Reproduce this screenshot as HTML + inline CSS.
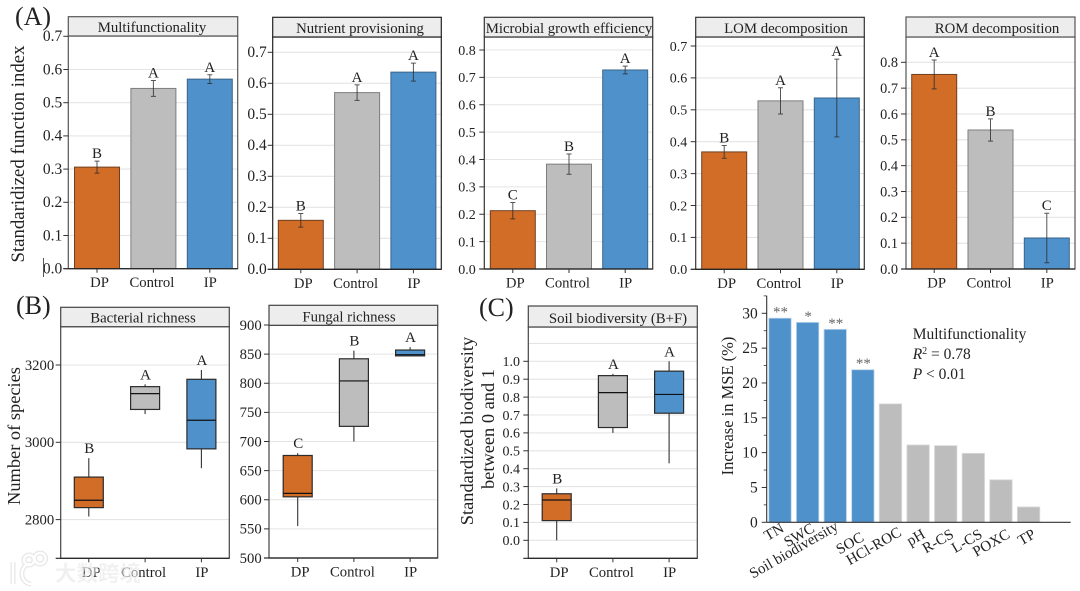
<!DOCTYPE html>
<html lang="en">
<head>
<meta charset="utf-8">
<title>Standardized function index, richness and MSE panels</title>
<style>
html,body{margin:0;padding:0;background:#fff;width:1080px;height:591px;overflow:hidden}
svg{display:block;font-family:"Liberation Serif","Noto Serif CJK SC",serif;filter:blur(0.3px)}
text{fill:#222}
</style>
</head>
<body>
<svg id="figure" xmlns="http://www.w3.org/2000/svg" width="1080" height="591" viewBox="0 0 1080 591">
  <rect x="0" y="0" width="1080" height="591" fill="#ffffff"/>
</svg>
<script>
// ---------- shared categories ----------
const treatments = ['DP', 'Control', 'IP'];

// ---------- panel A data ----------
const multifunctionalityMeans = [0.306, 0.543, 0.571];
const multifunctionalityErrors = [0.018, 0.024, 0.013];
const multifunctionalityLetters = ['B', 'A', 'A'];
const multifunctionalityTicks = ['0.0', '0.1', '0.2', '0.3', '0.4', '0.5', '0.6', '0.7'];

const nutrientMeans = [0.158, 0.570, 0.636];
const nutrientErrors = [0.022, 0.025, 0.029];
const nutrientLetters = ['B', 'A', 'A'];
const nutrientTicks = ['0.0', '0.1', '0.2', '0.3', '0.4', '0.5', '0.6', '0.7'];

const microbialMeans = [0.213, 0.383, 0.727];
const microbialErrors = [0.030, 0.037, 0.014];
const microbialLetters = ['C', 'B', 'A'];
const microbialTicks = ['0.0', '0.1', '0.2', '0.3', '0.4', '0.5', '0.6', '0.7', '0.8'];

const lomMeans = [0.368, 0.528, 0.537];
const lomErrors = [0.020, 0.041, 0.122];
const lomLetters = ['B', 'A', 'A'];
const lomTicks = ['0.0', '0.1', '0.2', '0.3', '0.4', '0.5', '0.6', '0.7'];

const romMeans = [0.753, 0.538, 0.120];
const romErrors = [0.056, 0.043, 0.096];
const romLetters = ['A', 'B', 'C'];
const romTicks = ['0.0', '0.1', '0.2', '0.3', '0.4', '0.5', '0.6', '0.7', '0.8'];

// ---------- panel B data (low, q1, median, q3, high) ----------
const bacterialDP = [2808, 2831, 2850, 2910, 2959];
const bacterialControl = [3073, 3085, 3126, 3144, 3150];
const bacterialIP = [2933, 2983, 3057, 3163, 3187];
const bacterialLetters = ['B', 'A', 'A'];
const bacterialTicks = ['2800', '3000', '3200'];

const fungalDP = [555, 605, 611, 676, 680];
const fungalControl = [700, 726, 804, 842, 856];
const fungalIP = [847, 847, 849, 857, 862];
const fungalLetters = ['C', 'B', 'A'];
const fungalTicks = ['500', '550', '600', '650', '700', '750', '800', '850', '900'];

// ---------- panel C data ----------
const soilDP = [0.00, 0.11, 0.225, 0.26, 0.29];
const soilControl = [0.60, 0.63, 0.825, 0.92, 0.93];
const soilIP = [0.43, 0.71, 0.815, 0.945, 1.00];
const soilLetters = ['B', 'A', 'A'];
const soilTicks = ['0.0', '0.1', '0.2', '0.3', '0.4', '0.5', '0.6', '0.7', '0.8', '0.9', '1.0'];

// ---------- importance chart data ----------
const predictors = ['TN', 'SWC', 'Soil biodiversity', 'SOC', 'HCl-ROC', 'pH', 'R-CS', 'L-CS', 'POXC', 'TP'];
const importanceValues = [29.3, 28.7, 27.7, 21.9, 17.0, 11.1, 11.0, 9.9, 6.1, 2.2];
const importanceStars = ['**', '*', '**', '**', '', '', '', '', '', ''];
const importanceTicks = ['0', '5', '10', '15', '20', '25', '30'];

const SVG_NS = 'http://www.w3.org/2000/svg';
const root = document.getElementById('figure');
const ORANGE = '#D26D28', GREY = '#BDBDBD', BLUE = '#4F92CB';
const fills = [ORANGE, GREY, BLUE];
const edges = ['#6e4020', '#7d7d7d', '#3a6488'];

function make(tag, parent, attrs, content) {
  const el = document.createElementNS(SVG_NS, tag);
  for (const k in attrs) el.setAttribute(k, attrs[k]);
  if (content !== undefined) el.textContent = content;
  parent.appendChild(el);
  return el;
}

function slug(s) {
  return s.toLowerCase().replace(/[^a-z0-9]+/g, '-');
}

// Linear axis built from two value/pixel anchors.
function linearAxis(v0, y0, v1, y1) {
  const k = (y1 - y0) / (v1 - v0);
  return function (v) { return y0 + (v - v0) * k; };
}

function drawFacetBack(g, p, ticks, y) {
  ticks.forEach(function (t) {
    const py = y(parseFloat(t));
    const line = make('line', g, { x1: p.left, x2: p.right, y1: py, y2: py, stroke: '#e4e4e4', 'stroke-width': 1.1 });
    
    
  });
}

function drawFacetFront(g, p, ticks, y) {
  const frame = make('rect', g, { x: p.left, y: p.plotTop, width: p.right - p.left, height: p.bottom - p.plotTop, fill: 'none', stroke: p.frame || '#333', 'stroke-width': 1.2 });
  
  

  const bottomAxis = make('line', g, { x1: p.left - 5, x2: p.right, y1: p.bottom, y2: p.bottom, stroke: '#222', 'stroke-width': 1.2 });
  
  

  const strip = make('rect', g, { x: p.left, y: p.stripTop, width: p.right - p.left, height: p.plotTop - p.stripTop, fill: '#ededed', stroke: p.frame || '#333', 'stroke-width': 1.2 });
  
  

  const title = make('text', g, { x: p.titleX, y: p.plotTop - 4, 'text-anchor': 'middle', 'font-size': 14.8 }, p.title);
  
  

  ticks.forEach(function (t) {
    const py = y(parseFloat(t));
    const tick = make('line', g, { x1: p.left - 5, x2: p.left, y1: py, y2: py, stroke: '#333', 'stroke-width': 1 });
    
    
    const label = make('text', g, { x: p.left - p.tickGap, y: py + 4.8, 'text-anchor': 'end', 'font-size': p.tickFont }, t);
    
    
  });

  treatments.forEach(function (name, i) {
    const cx = p.x0 + i * p.step;
    const tick = make('line', g, { x1: cx, x2: cx, y1: p.bottom, y2: p.bottom + 4, stroke: '#333', 'stroke-width': 1 });
    
    
    const label = make('text', g, { x: cx + [2.5, -1.5, 0.5][i], y: p.bottom + 18.5, 'text-anchor': 'middle', 'font-size': 14.7 }, name);
    
    
  });
}

function barPanel(p, means, errors, letters, ticks) {
  const g = make('g', root, {});
  
  
  const y = linearAxis(0, p.bottom, p.anchorValue, p.anchorY);
  drawFacetBack(g, p, ticks, y);
  const barW = 45;
  means.forEach(function (m, i) {
    const cx = p.x0 + i * p.step;
    const bar = make('rect', g, { x: cx - barW / 2, y: y(m), width: barW, height: y(0) - y(m), fill: fills[i], stroke: edges[i], 'stroke-width': 1 });
    
    
    const hi = y(m + errors[i]), lo = y(m - errors[i]);
    const err = make('path', g, { d: 'M' + cx + ' ' + hi + 'V' + lo + 'M' + (cx - 2.5) + ' ' + hi + 'H' + (cx + 2.5) + 'M' + (cx - 2.5) + ' ' + lo + 'H' + (cx + 2.5), fill: 'none', stroke: '#2a2a2a', 'stroke-opacity': 0.8, 'stroke-width': 1 });
    
    
    const letter = make('text', g, { x: cx, y: hi - 3, 'text-anchor': 'middle', 'font-size': 15 }, letters[i]);
    
    
  });
  drawFacetFront(g, p, ticks, y);
}

function boxPanel(p, series, letters, ticks) {
  const g = make('g', root, {});
  
  
  const y = linearAxis(p.anchorA, p.anchorAY, p.anchorB, p.anchorBY);
  drawFacetBack(g, p, ticks, y);
  if (p.extraGrid !== undefined) {
    const extra = make('line', g, { x1: p.left, x2: p.right, y1: y(p.extraGrid), y2: y(p.extraGrid), stroke: '#e4e4e4', 'stroke-width': 1.1 });
    
    
  }
  const boxW = 29;
  series.forEach(function (s, i) {
    const cx = p.x0 + i * p.step;
    const whisker = make('line', g, { x1: cx, x2: cx, y1: y(s[0]), y2: y(s[4]), stroke: '#333', 'stroke-width': 1.1 });
    
    
    const box = make('rect', g, { x: cx - boxW / 2, y: y(s[3]), width: boxW, height: y(s[1]) - y(s[3]), fill: fills[i], stroke: '#2b2b2b', 'stroke-width': 1.2 });
    
    
    const med = make('line', g, { x1: cx - boxW / 2, x2: cx + boxW / 2, y1: y(s[2]), y2: y(s[2]), stroke: '#111', 'stroke-width': 1.2 });
    
    
    const letter = make('text', g, { x: cx + 0.5, y: y(s[4]) - 5, 'text-anchor': 'middle', 'font-size': 15 }, letters[i]);
    
    
  });
  drawFacetFront(g, p, ticks, y);
}

barPanel({ title: 'Multifunctionality', left: 68.3, right: 237.7, stripTop: 16.7, plotTop: 36, bottom: 268.7, titleX: 152, x0: 97, step: 56.4, anchorValue: 0.7, anchorY: 36.3, tickFont: 15.5, tickGap: 6, frame: '#555' },
  multifunctionalityMeans, multifunctionalityErrors, multifunctionalityLetters, multifunctionalityTicks);
barPanel({ title: 'Nutrient provisioning', left: 272.7, right: 441.3, stripTop: 17.3, plotTop: 37, bottom: 269.3, titleX: 360, x0: 300.8, step: 56.3, anchorValue: 0.7, anchorY: 52.3, tickFont: 15.5, tickGap: 6, frame: '#222' },
  nutrientMeans, nutrientErrors, nutrientLetters, nutrientTicks);
barPanel({ title: 'Microbial growth efficiency', left: 484.3, right: 652.7, stripTop: 17.3, plotTop: 37, bottom: 269, titleX: 569, x0: 512.8, step: 56.2, anchorValue: 0.8, anchorY: 50, tickFont: 14, tickGap: 8.5, frame: '#333' },
  microbialMeans, microbialErrors, microbialLetters, microbialTicks);
barPanel({ title: 'LOM decomposition', left: 695.7, right: 864.3, stripTop: 17.3, plotTop: 37, bottom: 269.3, titleX: 786, x0: 724.2, step: 56.3, anchorValue: 0.7, anchorY: 46, tickFont: 14, tickGap: 8.5, frame: '#333' },
  lomMeans, lomErrors, lomLetters, lomTicks);
barPanel({ title: 'ROM decomposition', left: 906, right: 1075, stripTop: 17, plotTop: 37, bottom: 269, titleX: 997, x0: 934.2, step: 56.3, anchorValue: 0.8, anchorY: 62.3, tickFont: 14.3, tickGap: 8, frame: '#555' },
  romMeans, romErrors, romLetters, romTicks);

boxPanel({ title: 'Bacterial richness', left: 60.7, right: 229.3, stripTop: 307.3, plotTop: 326.7, bottom: 558.3, titleX: 143, x0: 88.8, step: 56.3, anchorA: 3000, anchorAY: 442.3, anchorB: 3200, anchorBY: 365, tickFont: 14.7, tickGap: 6.5, frame: '#444' },
  [bacterialDP, bacterialControl, bacterialIP], bacterialLetters, bacterialTicks);
boxPanel({ title: 'Fungal richness', left: 269, right: 437.7, stripTop: 305.3, plotTop: 325.3, bottom: 558, titleX: 349, x0: 297.7, step: 56.2, anchorA: 500, anchorAY: 558, anchorB: 900, anchorBY: 325, tickFont: 14.7, tickGap: 7.3, frame: '#444' },
  [fungalDP, fungalControl, fungalIP], fungalLetters, fungalTicks);
boxPanel({ title: 'Soil biodiversity (B+F)', left: 528.3, right: 697.3, stripTop: 306, plotTop: 327, bottom: 558.3, titleX: 618, x0: 556.7, step: 56.2, anchorA: 0, anchorAY: 540.3, anchorB: 1, anchorBY: 361.3, extraGrid: 1.1, tickFont: 14, tickGap: 8.3, frame: '#444' },
  [soilDP, soilControl, soilIP], soilLetters, soilTicks);

// Importance (increase in MSE) chart
(function () {
  const g = make('g', root, {});
  
  
  const axisX = 766.7, axisY = 522.3;
  const y = linearAxis(0, axisY, 30, 313.3);
  const barX = function (i) { return 780 + i * 27.62; };
  // hand placement of the slanted labels, which the original nudged one by one
  const nudgeX = [5, 8, 4, 2, 12, 8, 9, 10, 10, 8];
  const nudgeY = [531, 531, 529, 540, 535, 537, 537, 537, 537, 537];
  importanceValues.forEach(function (v, i) {
    const bar = make('rect', g, { x: barX(i) - 11.2, y: y(v), width: 22.4, height: y(0) - y(v), fill: i < 4 ? BLUE : GREY, stroke: i < 4 ? '#bcd6ec' : '#d9d9d9', 'stroke-width': 0.8 });
    
    
    if (importanceStars[i]) {
      const star = make('text', g, { x: barX(i) + 0.5, y: y(v) - 1.5, 'text-anchor': 'middle', 'font-size': 15, style: 'fill:#666' }, importanceStars[i]);
      
      
    }
    const lx = barX(i) + nudgeX[i];
    const ly = nudgeY[i];
    const label = make('text', g, { x: lx, y: ly, 'text-anchor': 'end', 'font-size': 15, transform: 'rotate(-30 ' + lx + ' ' + ly + ')' }, predictors[i]);
    
    
  });
  const yAxis = make('line', g, { x1: axisX, x2: axisX, y1: 295.7, y2: axisY, stroke: '#333', 'stroke-width': 1.1 });
  
  
  const xAxis = make('line', g, { x1: axisX, x2: 1070.7, y1: axisY, y2: axisY, stroke: '#333', 'stroke-width': 1.1 });
  
  
  importanceTicks.forEach(function (t) {
    const py = y(parseFloat(t));
    const tick = make('line', g, { x1: axisX - 5, x2: axisX, y1: py, y2: py, stroke: '#333', 'stroke-width': 1 });
    
    
    const minor = make('line', g, { x1: axisX - 3, x2: axisX, y1: y(parseFloat(t) + 2.5), y2: y(parseFloat(t) + 2.5), stroke: '#333', 'stroke-width': 0.8 });
    
    
    const label = make('text', g, { x: axisX - 9, y: py + 5, 'text-anchor': 'end', 'font-size': 15.5 }, t);
    
    
  });
})();
</script>

<script>
(function () {
  const host = document.getElementById('figure');
  function addText(name, x, y, size, rotate, html) {
    const t = document.createElementNS('http://www.w3.org/2000/svg', 'text');
    t.setAttribute('x', x);
    t.setAttribute('y', y);
    t.setAttribute('font-size', size);
    if (rotate) {
      t.setAttribute('transform', 'rotate(-90 ' + x + ' ' + y + ')');
      t.setAttribute('text-anchor', 'middle');
    }
    t.innerHTML = html;
    
    
    host.appendChild(t);
    return t;
  }
  addText('panel-label-a', 15, 25, 26, false, '(A)');
  addText('panel-label-b', 16, 314, 26, false, '(B)');
  addText('panel-label-c', 479, 316, 26, false, '(C)');
  addText('y-axis-title-function-index', 24, 154, 18.8, true, 'Standaridized function index');
  addText('y-axis-title-species', 20, 436, 18.4, true, 'Number of species');
  addText('y-axis-title-biodiversity-line-1', 473, 431, 18.4, true, 'Standardized biodiversity');
  addText('y-axis-title-biodiversity-line-2', 494, 429, 18.4, true, 'between 0 and 1');
  addText('y-axis-title-mse', 733, 406, 16.5, true, 'Increase in MSE (%)');
  addText('annotation-multifunctionality', 912.7, 339, 15.5, false, 'Multifunctionality');
  addText('annotation-r-squared', 912.7, 359, 15.5, false, '<tspan font-style="italic">R</tspan><tspan font-size="10" dy="-5">2</tspan><tspan dy="5"> = 0.78</tspan>');
  addText('annotation-p-value', 912.7, 379, 15.5, false, '<tspan font-style="italic">P</tspan> &lt; 0.01');

  const artefact = document.createElementNS('http://www.w3.org/2000/svg', 'line');
  artefact.setAttribute('x1', 43.5);
  artefact.setAttribute('x2', 43.5);
  artefact.setAttribute('y1', 258);
  artefact.setAttribute('y2', 277);
  artefact.setAttribute('stroke', '#555');
  
  
  host.appendChild(artefact);

  const mark = document.createElementNS('http://www.w3.org/2000/svg', 'g');
  
  
  mark.innerHTML = '<path d="M13 562 L13 584 M30 564 C19 565 19 583 31 584 M29 555 a5 5 0 1 0 .1 0 M40 553 a5.5 5.5 0 1 0 .1 0" fill="none" stroke="#d4d4d4" stroke-width="5" opacity=".55"/>' +
    '<path d="M13 562 L13 584 M30 564 C19 565 19 583 31 584 M29 555 a5 5 0 1 0 .1 0 M40 553 a5.5 5.5 0 1 0 .1 0" fill="none" stroke="#ffffff" stroke-width="2.4"/>' +
    '<text x="55" y="581" font-size="21.5" style="fill:#e4e4e4;fill-opacity:.6;font-weight:700;stroke:#ffffff;stroke-opacity:.35;stroke-width:1;font-family:\'Noto Sans CJK SC\',sans-serif">大数跨境</text>';
  host.appendChild(mark);
})();
</script>
</body>
</html>
